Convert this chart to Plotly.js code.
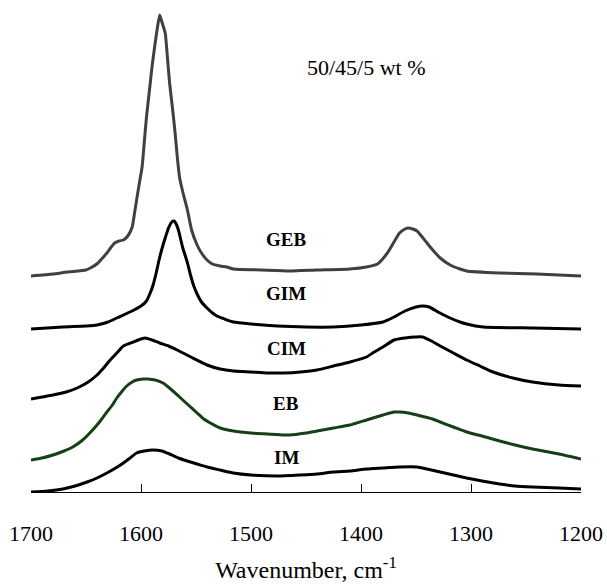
<!DOCTYPE html>
<html>
<head>
<meta charset="utf-8">
<script src="https://cdn.plot.ly/plotly-3.0.1.min.js"></script>
<style>html,body{margin:0;padding:0;background:#fff;}#chart{width:607px;height:586px;}</style>
</head>
<body>
<div id="chart"></div>
<script>
// Offset Raman intensities (arbitrary units)
const gebWn = [1700,1680,1667,1650,1646,1639,1635,1631,1627,1624,1620,1616,1612,1608,1606,1604,1601,1599,1597,1595,1592,1590,1587,1585,1583,1581,1578,1576,1574,1571,1569,1567,1565,1562,1558,1554,1549,1545,1540,1535,1528,1522,1516,1490,1465,1440,1410,1395,1385,1376,1370,1365,1360,1357,1353,1349,1340,1334,1328,1319,1310,1304,1274,1240,1200];
const gebI  = [216,218,220,222,224,229,234,239,245,249,251,252,256,265,278,292,312,325,350,375,405,425,450,465,477,470,459,435,409,380,359,335,315,300,283,262,247,239,232,228,226,225,223,222,221,222,223,225,228,239,250,259,263,264,263,261,249,241,234,227,223,221,219,218,216];

const gimWn = [1700,1671,1650,1640,1630,1622,1610,1600,1595,1592,1589,1586,1584,1581,1578,1575,1572,1570,1568,1566,1564,1562,1558,1555,1552,1549,1545,1540,1535,1531,1524,1516,1500,1476,1450,1425,1400,1380,1370,1360,1350,1344,1338,1330,1319,1310,1304,1289,1244,1200];
const gimI  = [163,165,166,167,170,174,180,186,191,198,207,220,230,243,254,264,270,271,268,262,253,244,230,217,206,198,190,184,179,176,173,170,168,166,165,165,167,170,175,181,185,186,185,180,174,170,168,165,164,163];

const cimWn = [1700,1690,1680,1668,1658,1648,1640,1634,1628,1622,1616,1607,1600,1596,1590,1583,1575,1567,1560,1553,1540,1528,1516,1500,1485,1470,1455,1440,1425,1410,1395,1388,1380,1370,1360,1350,1344,1336,1328,1316,1304,1292,1280,1262,1244,1220,1200];
const cimI  = [93,95,97,100,104,110,117,124,132,139,146,150,153,154,152,149,146,142,138,134,127,123,121,120,119,119,120,122,126,130,135,140,145,152,154,155,155,151,146,139,132,126,120,114,110,107,106];

const ebWn = [1700,1690,1680,1670,1662,1653,1644,1637,1631,1626,1622,1617,1613,1608,1604,1598,1594,1587,1580,1572,1565,1557,1549,1543,1537,1528,1516,1500,1485,1465,1450,1440,1425,1410,1395,1380,1370,1365,1357,1349,1335,1328,1316,1304,1290,1274,1260,1244,1220,1200];
const ebI  = [32,34,37,41,45,52,62,71,80,87,94,101,106,110,112,113,113,112,109,102,95,87,79,73,69,64,61,59,58,57,59,61,64,67,72,77,80,80,79,77,73,70,65,60,56,51,47,43,38,33];

const imWn = [1700,1685,1671,1660,1649,1640,1631,1623,1616,1610,1604,1597,1589,1581,1574,1566,1558,1549,1540,1528,1516,1500,1476,1455,1440,1425,1410,1395,1380,1365,1349,1340,1328,1316,1304,1290,1274,1260,1244,1220,1200];
const imI  = [0,1,3,6,10,14,19,24,29,34,39,41,42,41,38,34,31,28,25,22,19,17,16,17,18,20,21,23,24,25,25,23,20,17,14,11,8,6,5,4,3];

const seriesNames = ["GEB","GIM","CIM","EB","IM"];
const labelY = [253, 199, 144, 89, 35];
const tickVals = [1700,1600,1500,1400,1300,1200];

const colors = {GEB:"#404040", GIM:"#000000", CIM:"#000000", EB:"#163f16", IM:"#000000"};
const data = [[gebWn,gebI],[gimWn,gimI],[cimWn,cimI],[ebWn,ebI],[imWn,imI]];

const FONT = "'Liberation Serif', 'Times New Roman', serif";

const traces = data.map((d,i)=>({
  x:d[0], y:d[1], type:"scatter", mode:"lines", name:seriesNames[i],
  line:{color:colors[seriesNames[i]], width:3, shape:"spline", smoothing:0.5},
  hoverinfo:"skip"
}));

const annotations = seriesNames.map((n,i)=>({
  x:1468, y:labelY[i], xref:"x", yref:"y", text:"<b>"+n+"</b>", showarrow:false,
  font:{family:FONT, size:19, color:"#000"}
}));
annotations.push({
  x:1395, y:425, xref:"x", yref:"y", text:"50/45/5 wt %", showarrow:false,
  font:{family:FONT, size:22, color:"#000"}
});

const layout = {
  width:607, height:586,
  margin:{l:31, r:26, t:10, b:94},
  paper_bgcolor:"#fff", plot_bgcolor:"#fff",
  showlegend:false,
  annotations:annotations,
  xaxis:{
    range:[1700,1200], tickvals:tickVals, ticktext:tickVals.map(String),
    ticks:"inside", ticklen:8, tickcolor:"#000", tickwidth:1,
    showline:true, linecolor:"#000", linewidth:1,
    showgrid:false, zeroline:false, ticklabelstandoff:22,
    tickfont:{family:FONT, size:22, color:"#000"},
    title:{text:"Wavenumber, cm<sup>-1</sup>", standoff:15,
      font:{family:FONT, size:24, color:"#000"}},
    automargin:false, fixedrange:true
  },
  yaxis:{range:[0,482], visible:false, fixedrange:true}
};

Plotly.newPlot("chart", traces, layout, {staticPlot:true});
</script>
</body>
</html>
